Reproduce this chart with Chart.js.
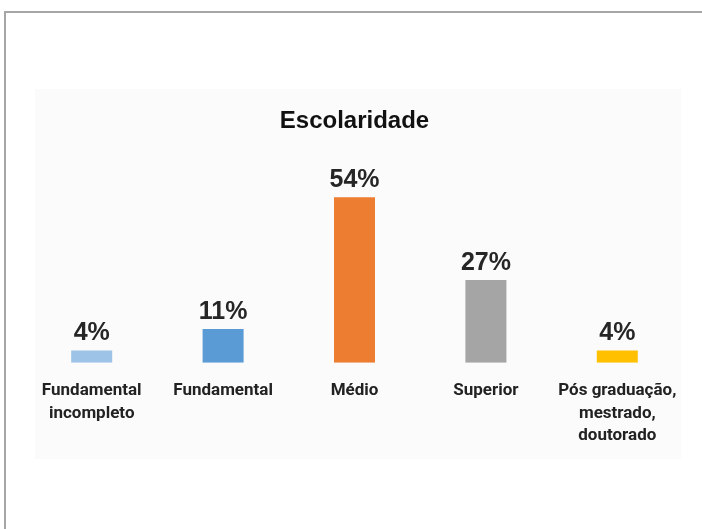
<!DOCTYPE html>
<html>
<head>
<meta charset="utf-8">
<script src="https://cdn.jsdelivr.net/npm/chart.js@4/dist/chart.umd.min.js"></script>
<style>
  html, body { margin: 0; padding: 0; background: #ffffff; }
  #frame { position: absolute; left: 4px; top: 11px; width: 720px; height: 540px;
           border-left: 2px solid #a6a6a6; border-top: 2px solid #a6a6a6; }
  #panel { position: absolute; left: 35px; top: 89px; width: 646px; height: 370px; background: #fbfbfb; }
  #wrap { position: absolute; left: 0; top: 0; width: 702px; height: 529px; }
</style>
</head>
<body>
<div id="frame"></div>
<div id="panel"></div>
<div id="wrap"><canvas id="c" width="702" height="529"></canvas></div>
<script>
// Escolaridade — distribuição percentual
const categories = [
  ["Fundamental", "incompleto"],
  "Fundamental",
  "Médio",
  "Superior",
  ["Pós graduação,", "mestrado,", "doutorado"]
];
const percentages = [4, 11, 54, 27, 4];
const barColors = ["#9dc3e6", "#5b9bd5", "#ed7d31", "#a5a5a5", "#ffc000"];

const labelFont = "Roboto, 'Liberation Sans', Arial, sans-serif";
const mainFont = "'Liberation Sans', Arial, sans-serif";

// Writes each bar's percentage just above it
const valueLabels = {
  id: 'valueLabels',
  afterDatasetsDraw(chart) {
    const ctx = chart.ctx;
    const meta = chart.getDatasetMeta(0);
    ctx.save();
    ctx.font = "bold 25px " + mainFont;
    ctx.fillStyle = "#262626";
    ctx.textAlign = "center";
    ctx.textBaseline = "middle";
    meta.data.forEach((bar, i) => {
      ctx.fillText(percentages[i] + "%", bar.x, bar.y - 17);
    });
    ctx.restore();
  }
};

new Chart(document.getElementById('c'), {
  type: 'bar',
  data: {
    labels: categories,
    datasets: [{
      data: percentages,
      backgroundColor: barColors,
      borderWidth: 0,
      barPercentage: 0.312,
      categoryPercentage: 1.0
    }]
  },
  options: {
    responsive: false,
    animation: false,
    events: [],
    layout: { padding: { left: 26, right: 19, top: 95, bottom: 65 } },
    plugins: {
      legend: { display: false },
      tooltip: { enabled: false },
      title: {
        display: true,
        text: "Escolaridade",
        color: "#111111",
        font: { family: mainFont, size: 24, weight: 'bold' },
        padding: { top: 12, bottom: 43 }
      }
    },
    scales: {
      x: {
        grid: { display: false, drawTicks: false },
        border: { display: false },
        ticks: {
          color: "#222222",
          font: { family: labelFont, size: 17, weight: 'bold', lineHeight: 1.32 },
          padding: 17,
          maxRotation: 0,
          autoSkip: false
        }
      },
      y: {
        display: false,
        min: 0,
        max: 60
      }
    }
  },
  plugins: [valueLabels]
});
</script>
</body>
</html>
